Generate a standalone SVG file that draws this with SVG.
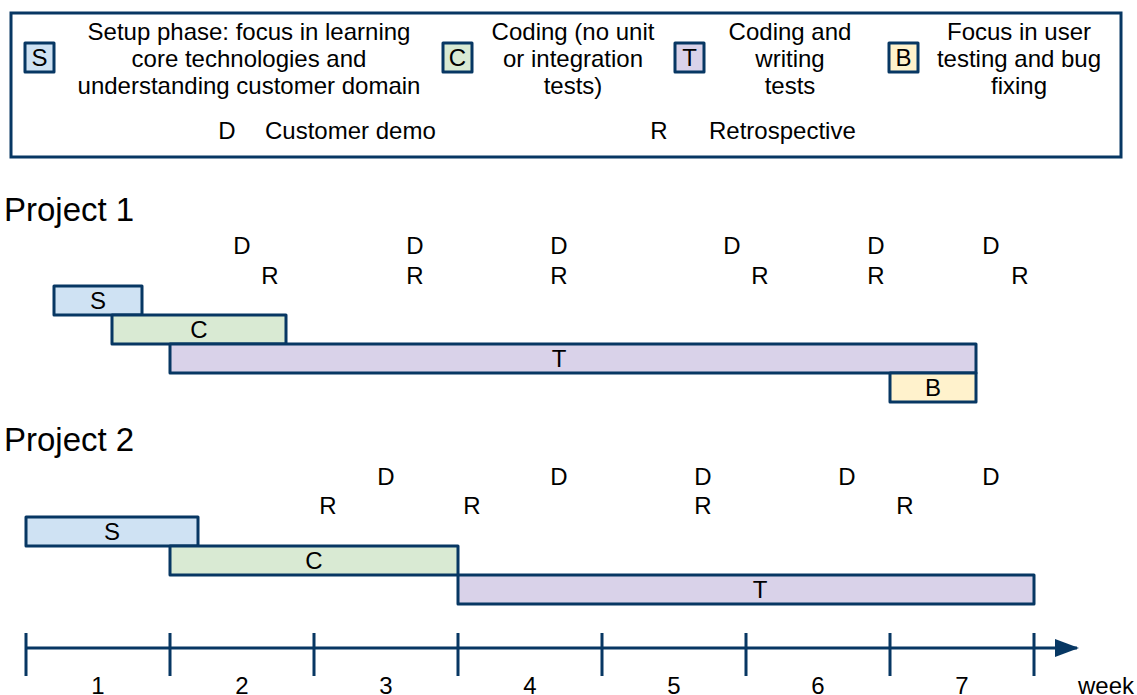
<svg xmlns="http://www.w3.org/2000/svg" width="1137" height="695" viewBox="0 0 1137 695">
  <style>
    text { font-family: "Liberation Sans", Arial, sans-serif; fill: #000; }
    .t20 { font-size: 24px; }
    .mid { text-anchor: middle; }
    .title { font-size: 33px; }
    .bar { stroke: #073763; stroke-width: 3; stroke-linejoin: round; }
    .s { fill: #cfe2f3; }
    .c { fill: #d9ead3; }
    .t { fill: #d9d2e9; }
    .b { fill: #fff2cc; }
    .axis { stroke: #073763; stroke-width: 3; fill: none; }
  </style>
  <defs>
    <marker id="arrow" viewBox="0 0 24 18" refX="22" refY="9" markerWidth="24" markerHeight="18" markerUnits="userSpaceOnUse" orient="auto">
      <path d="M0,0 L24,9 L0,18 Z" fill="#073763"/>
    </marker>
  </defs>

  <!-- Legend -->
  <g id="legend">
    <rect x="11" y="13" width="1110" height="144" fill="#fff" stroke="#073763" stroke-width="3"/>
    <rect class="bar s" x="25" y="43" width="29" height="29"/>
    <text class="t20 mid" x="39.5" y="66">S</text>
    <text class="t20 mid" x="249" y="40">Setup phase: focus in learning</text>
    <text class="t20 mid" x="249" y="67">core technologies and</text>
    <text class="t20 mid" x="249" y="94">understanding customer domain</text>

    <rect class="bar c" x="443" y="43" width="29" height="29"/>
    <text class="t20 mid" x="457.5" y="66">C</text>
    <text class="t20 mid" x="573" y="40">Coding (no unit</text>
    <text class="t20 mid" x="573" y="67">or integration</text>
    <text class="t20 mid" x="573" y="94">tests)</text>

    <rect class="bar t" x="675" y="43" width="29" height="29"/>
    <text class="t20 mid" x="689.5" y="66">T</text>
    <text class="t20 mid" x="790" y="40">Coding and</text>
    <text class="t20 mid" x="790" y="67">writing</text>
    <text class="t20 mid" x="790" y="94">tests</text>

    <rect class="bar b" x="889" y="43" width="29" height="29"/>
    <text class="t20 mid" x="903.5" y="66">B</text>
    <text class="t20 mid" x="1019" y="40">Focus in user</text>
    <text class="t20 mid" x="1019" y="67">testing and bug</text>
    <text class="t20 mid" x="1019" y="94">fixing</text>

    <text class="t20 mid" x="227" y="139">D</text>
    <text class="t20" x="265" y="139">Customer demo</text>
    <text class="t20 mid" x="659" y="139">R</text>
    <text class="t20" x="709" y="139">Retrospective</text>
  </g>

  <!-- Project 1 -->
  <g id="project1">
    <text class="title" x="4" y="221">Project 1</text>
    <g id="p1-events">
      <text class="t20 mid" x="242" y="254">D</text>
      <text class="t20 mid" x="415" y="254">D</text>
      <text class="t20 mid" x="559" y="254">D</text>
      <text class="t20 mid" x="732" y="254">D</text>
      <text class="t20 mid" x="876" y="254">D</text>
      <text class="t20 mid" x="991" y="254">D</text>
      <text class="t20 mid" x="270" y="284">R</text>
      <text class="t20 mid" x="415" y="284">R</text>
      <text class="t20 mid" x="559" y="284">R</text>
      <text class="t20 mid" x="760" y="284">R</text>
      <text class="t20 mid" x="876" y="284">R</text>
      <text class="t20 mid" x="1020" y="284">R</text>
    </g>
    <g id="p1-setup">
      <rect class="bar s" x="54" y="286" width="88" height="29"/>
      <text class="t20 mid" x="98" y="309">S</text>
    </g>
    <g id="p1-coding">
      <rect class="bar c" x="112" y="315" width="174" height="29"/>
      <text class="t20 mid" x="199" y="338">C</text>
    </g>
    <g id="p1-tests">
      <rect class="bar t" x="170" y="344" width="806" height="29"/>
      <text class="t20 mid" x="559" y="367">T</text>
    </g>
    <g id="p1-bugfix">
      <rect class="bar b" x="890" y="373" width="86" height="29"/>
      <text class="t20 mid" x="933" y="396">B</text>
    </g>
  </g>

  <!-- Project 2 -->
  <g id="project2">
    <text class="title" x="4" y="451">Project 2</text>
    <g id="p2-events">
      <text class="t20 mid" x="386" y="485">D</text>
      <text class="t20 mid" x="559" y="485">D</text>
      <text class="t20 mid" x="703" y="485">D</text>
      <text class="t20 mid" x="847" y="485">D</text>
      <text class="t20 mid" x="991" y="485">D</text>
      <text class="t20 mid" x="328" y="514">R</text>
      <text class="t20 mid" x="472" y="514">R</text>
      <text class="t20 mid" x="703" y="514">R</text>
      <text class="t20 mid" x="905" y="514">R</text>
    </g>
    <g id="p2-setup">
      <rect class="bar s" x="26" y="517" width="172" height="29"/>
      <text class="t20 mid" x="112" y="540">S</text>
    </g>
    <g id="p2-coding">
      <rect class="bar c" x="170" y="546" width="288" height="29"/>
      <text class="t20 mid" x="314" y="569">C</text>
    </g>
    <g id="p2-tests">
      <rect class="bar t" x="458" y="575" width="576" height="29"/>
      <text class="t20 mid" x="760" y="598">T</text>
    </g>
  </g>

  <!-- Week axis -->
  <g id="connectors">
    <line class="axis" x1="26" y1="648" x2="1077" y2="648" marker-end="url(#arrow)"/>
    <path class="axis" d="M26,633V676 M170,633V676 M314,633V676 M458,633V676 M602,633V676 M746,633V676 M890,633V676 M1034,633V676"/>
  </g>
  <g id="week-labels">
    <text class="t20 mid" x="98" y="694">1</text>
    <text class="t20 mid" x="242" y="694">2</text>
    <text class="t20 mid" x="386" y="694">3</text>
    <text class="t20 mid" x="530" y="694">4</text>
    <text class="t20 mid" x="674" y="694">5</text>
    <text class="t20 mid" x="818" y="694">6</text>
    <text class="t20 mid" x="962" y="694">7</text>
    <text class="t20" x="1078" y="694">week</text>
  </g>
</svg>
